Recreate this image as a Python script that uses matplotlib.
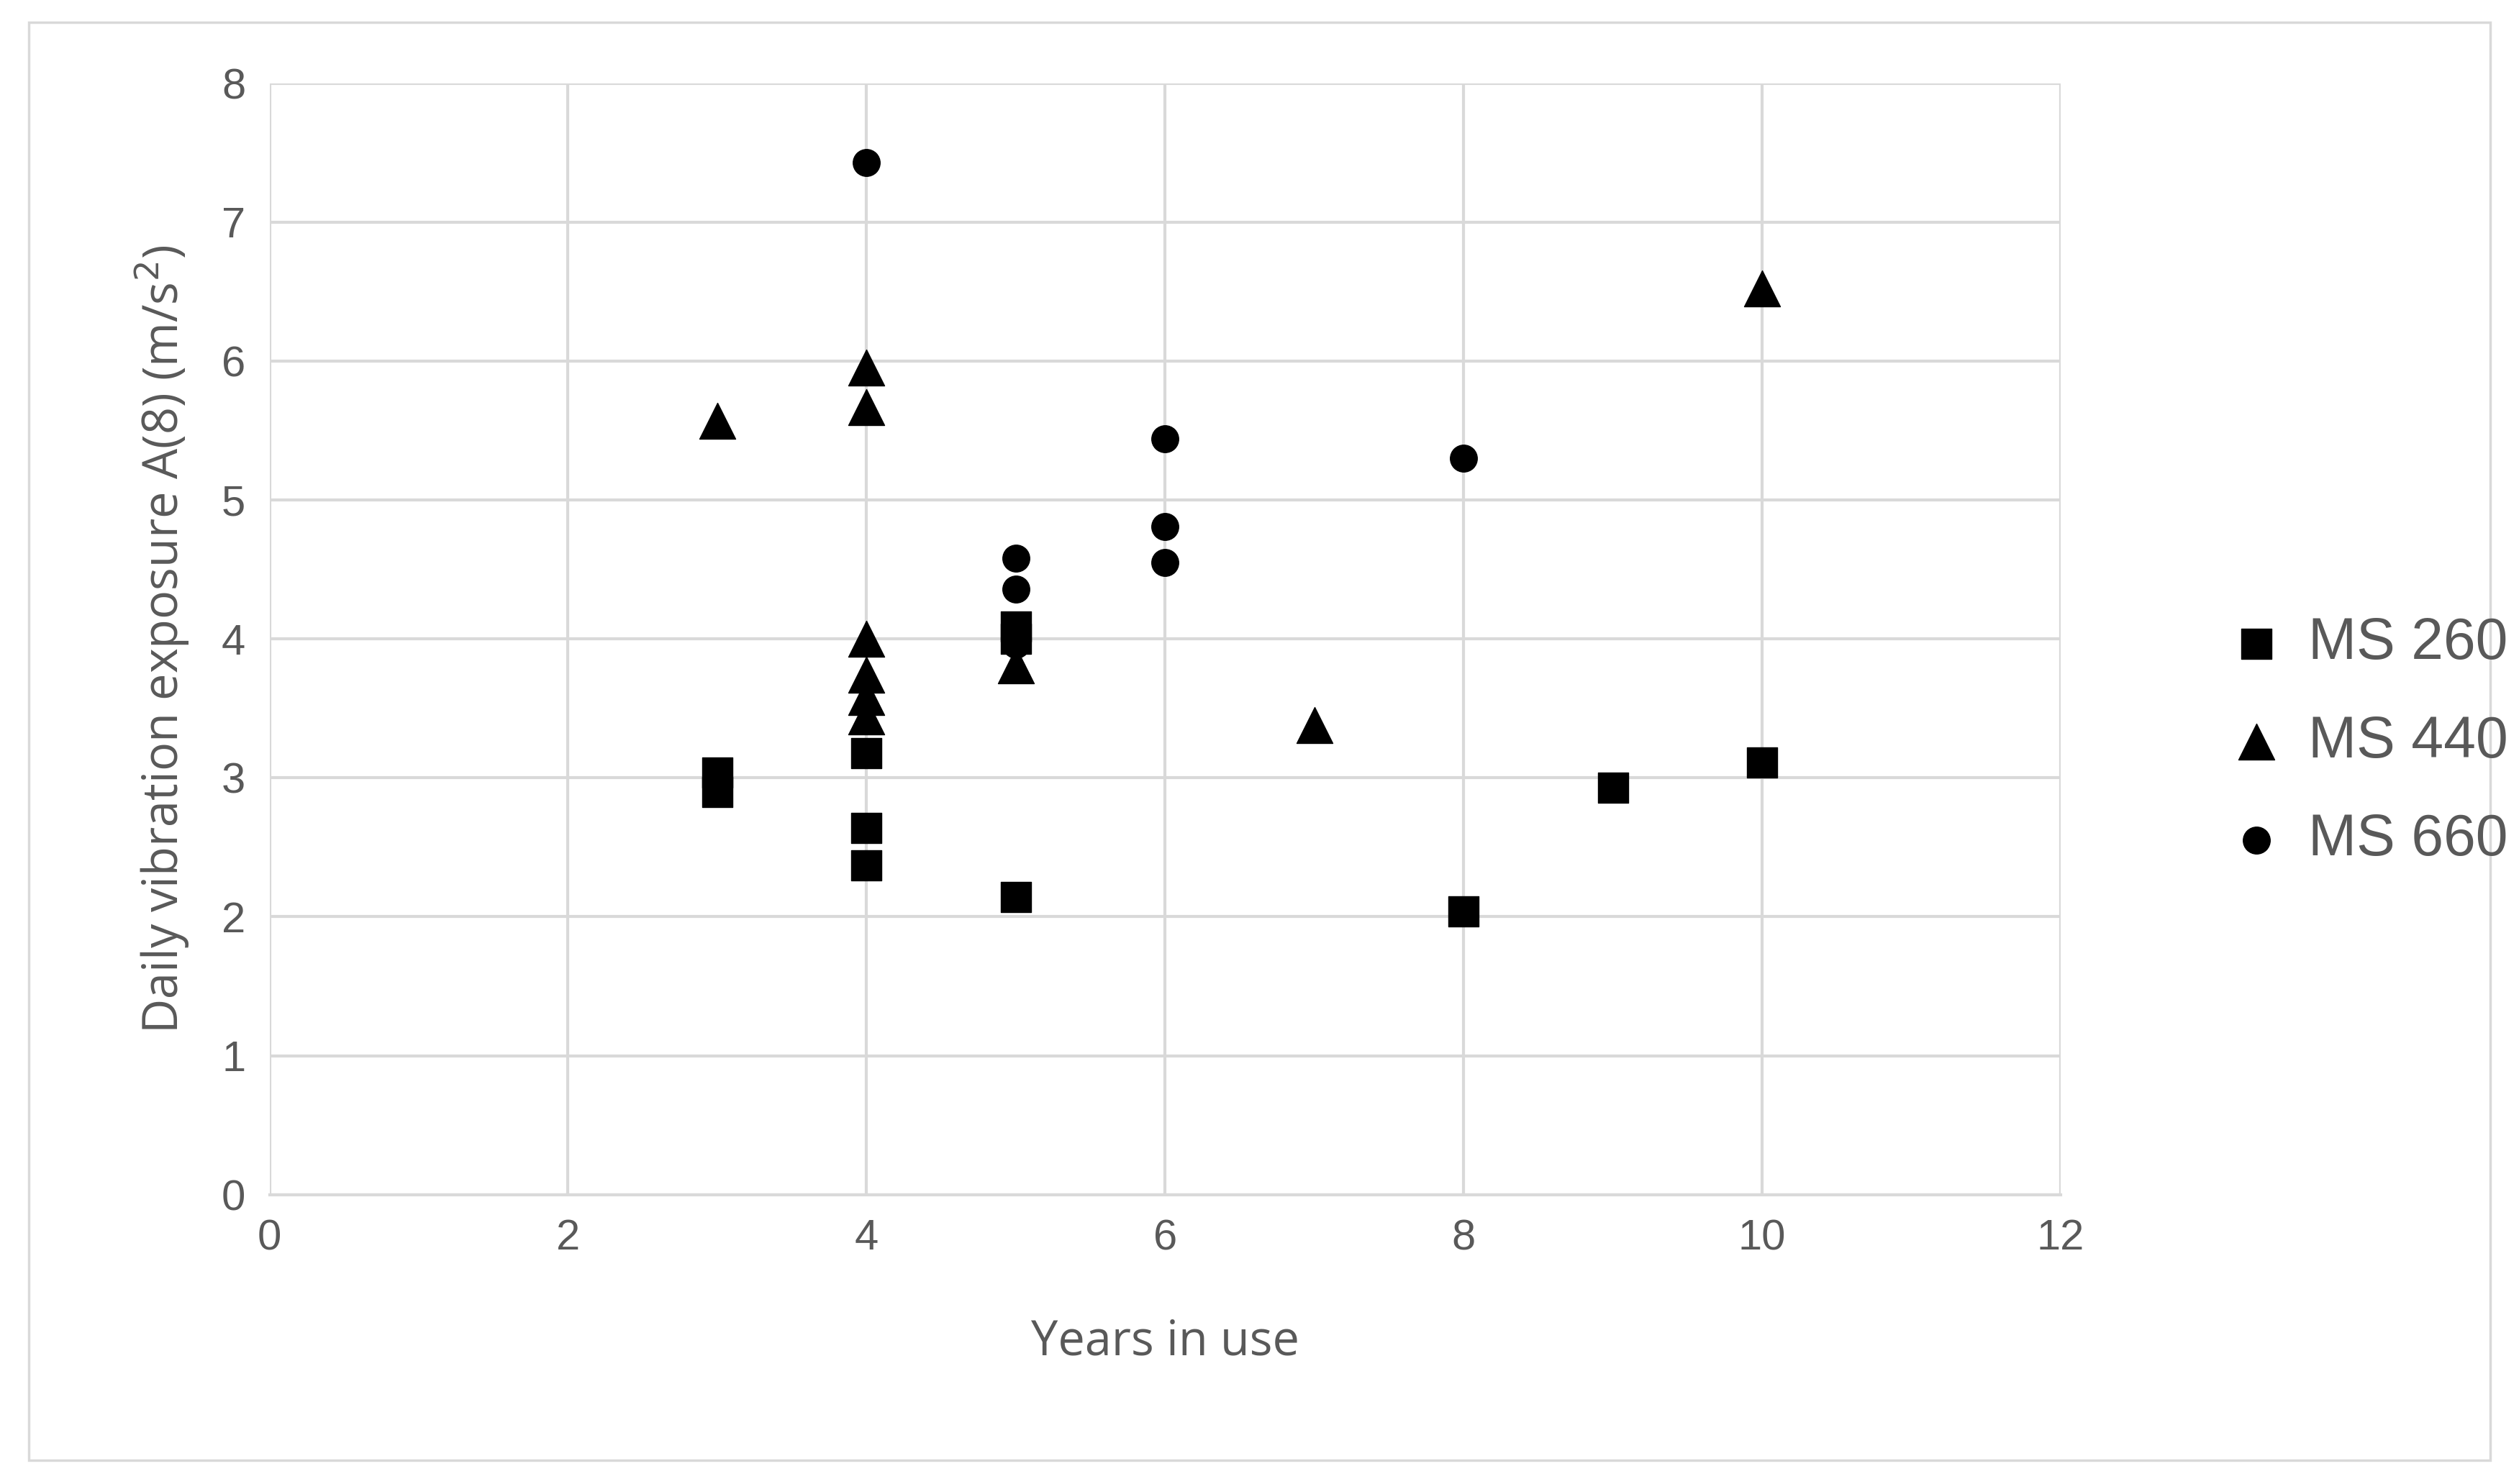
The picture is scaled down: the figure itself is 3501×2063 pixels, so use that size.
import matplotlib
matplotlib.use("Agg")
import matplotlib.pyplot as plt
from matplotlib.patches import Rectangle

GRAY = '#595959'
GRID = '#D9D9D9'

# MS 260 (squares)
ms260_x = [3, 3, 4, 4, 4, 5, 5, 5, 8, 9, 10]
ms260_y = [3.04, 2.90, 3.18, 2.64, 2.37, 4.09, 4.00, 2.14, 2.04, 2.93, 3.11]
# MS 440 (triangles)
ms440_x = [3, 4, 4, 4, 4, 4, 4, 5, 7, 10]
ms440_y = [5.57, 5.95, 5.67, 4.00, 3.74, 3.58, 3.44, 3.81, 3.38, 6.52]
# MS 660 (circles)
ms660_x = [4, 5, 5, 5, 6, 6, 6, 8]
ms660_y = [7.43, 4.58, 4.36, 3.96, 5.44, 4.81, 4.55, 5.30]

fig = plt.figure(figsize=(35.01, 20.63), dpi=100)
ax = fig.add_axes([0.107, 0.195, 0.711, 0.749])

fig.patches.append(Rectangle((0.0115, 0.016), 0.977, 0.969, transform=fig.transFigure,
                             fill=False, edgecolor=GRID, linewidth=2.5))

ax.scatter(ms660_x, ms660_y, marker='o', s=27**2, color='black', zorder=3, label='MS 660')
ax.scatter(ms440_x, ms440_y, marker='^', s=36**2, color='black', zorder=4, label='MS 440')
ax.scatter(ms260_x, ms260_y, marker='s', s=30**2, color='black', zorder=5, label='MS 260')

ax.set_xlim(0, 12)
ax.set_ylim(0, 8)
ax.set_xticks(range(0, 13, 2))
ax.set_yticks(range(0, 9))
ax.grid(True, color=GRID, linewidth=3)
ax.set_axisbelow(True)
for side in ['top', 'right', 'left']:
    ax.spines[side].set_visible(False)
ax.spines['bottom'].set_color(GRID)
ax.spines['bottom'].set_linewidth(3)
ax.tick_params(length=0, labelsize=43, colors=GRAY, pad=24)
for lab in ax.get_xticklabels() + ax.get_yticklabels():
    lab.set_fontfamily('Liberation Sans')

ax.set_xlabel('Years in use', fontsize=48, color=GRAY, family='Open Sans', labelpad=60)
ax.set_ylabel('Daily vibration exposure A(8) (m/s$^2$)', fontsize=48, color=GRAY,
              family='Open Sans', labelpad=30)

h, l = ax.get_legend_handles_labels()
leg = fig.legend(h[::-1], l[::-1], loc='center left', bbox_to_anchor=(0.852, 0.50),
                 frameon=False, handletextpad=-0.1, labelspacing=0.75,
                 prop={'family': 'Liberation Sans', 'size': 58}, markerscale=1.0)
for t in leg.get_texts():
    t.set_color(GRAY)

fig.savefig('out.png', dpi=100, facecolor='white')
